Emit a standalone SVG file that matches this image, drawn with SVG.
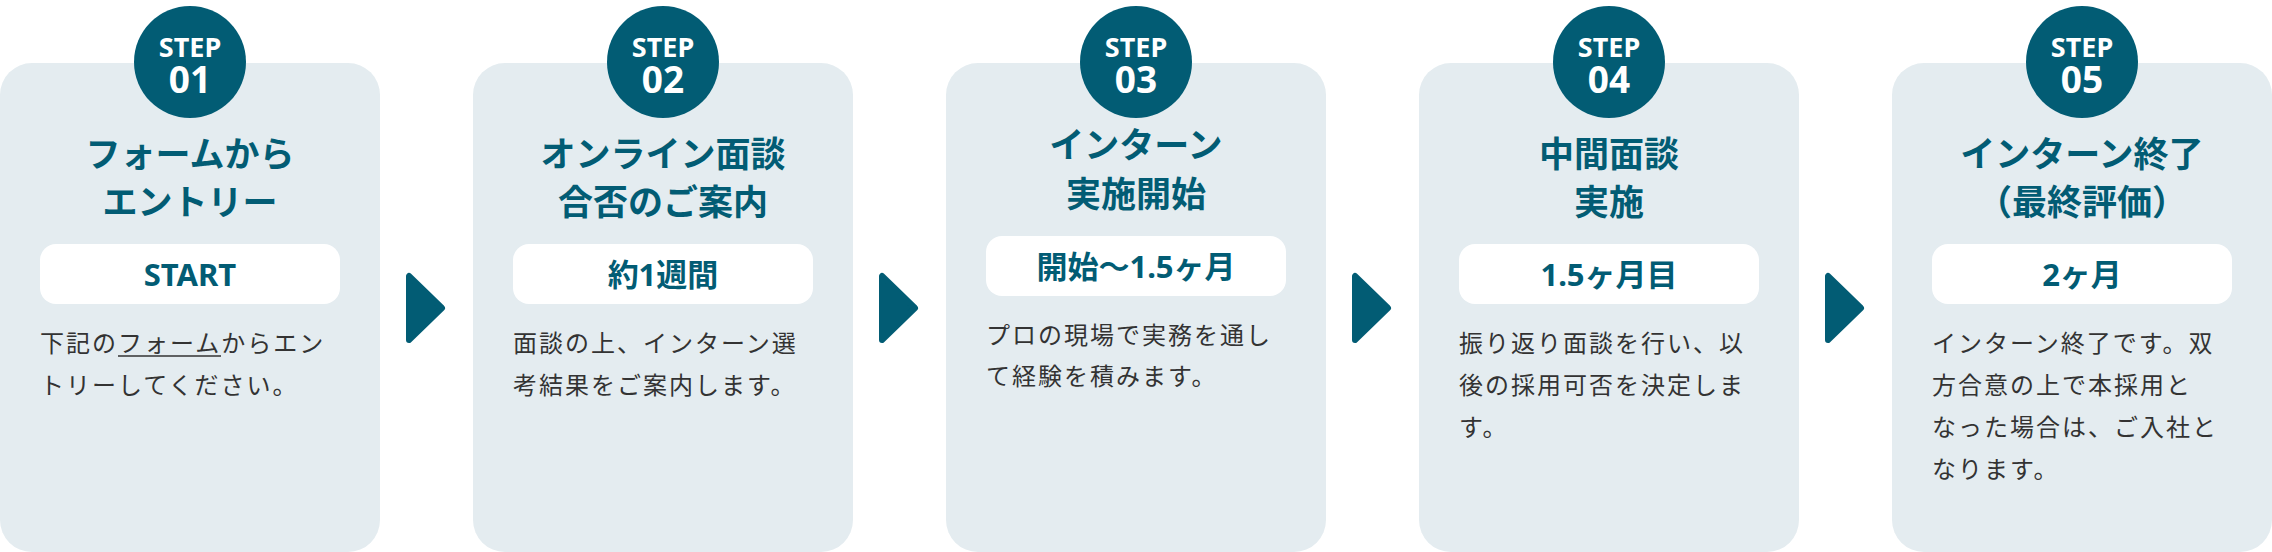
<svg xmlns="http://www.w3.org/2000/svg" width="2272" height="552" viewBox="0 0 2272 552">
<style>
.card{fill:#e4ecf0}
.badge{fill:#025c74}
.pill{fill:#ffffff}
.step{font-family:"Noto Sans","Noto Sans CJK JP",sans-serif;font-weight:700;fill:#ffffff;text-anchor:middle}
.title{font-family:"Noto Sans","Noto Sans CJK JP",sans-serif;font-weight:700;font-size:35px;fill:#025c74;text-anchor:middle}
.period{font-family:"Noto Sans","Noto Sans CJK JP",sans-serif;font-weight:700;font-size:31px;fill:#025c74;text-anchor:middle}
.body{font-family:"Noto Sans","Noto Sans CJK JP",sans-serif;font-weight:400;font-size:24px;letter-spacing:2px;fill:#333333}
.arrow{fill:#025c74;stroke:#025c74;stroke-width:6;stroke-linejoin:round}
</style>
<g id="connectors">
<polygon class="arrow" points="409,276 409,340 442,308"/>
<polygon class="arrow" points="882,276 882,340 915,308"/>
<polygon class="arrow" points="1355,276 1355,340 1388,308"/>
<polygon class="arrow" points="1828,276 1828,340 1861,308"/>
</g>
<g id="step1">
<rect class="card" x="0" y="63" width="380" height="489" rx="32"/>
<circle class="badge" cx="190" cy="62" r="56"/>
<text class="step" x="190" y="57" font-size="27">STEP</text>
<text class="step" x="190" y="93" font-size="37">01</text>
<text class="title" x="190" y="167">フォームから</text>
<text class="title" x="190" y="215">エントリー</text>
<rect class="pill" x="40" y="244" width="300" height="60" rx="16"/>
<text class="period" x="190" y="286">START</text>
<text class="body" x="40" y="352">下記のフォームからエン</text>
<line x1="118" y1="356" x2="221" y2="356" stroke="#333333" stroke-width="1.5"/>
<text class="body" x="40" y="394">トリーしてください。</text>
</g>
<g id="step2">
<rect class="card" x="473" y="63" width="380" height="489" rx="32"/>
<circle class="badge" cx="663" cy="62" r="56"/>
<text class="step" x="663" y="57" font-size="27">STEP</text>
<text class="step" x="663" y="93" font-size="37">02</text>
<text class="title" x="663" y="167">オンライン面談</text>
<text class="title" x="663" y="215">合否のご案内</text>
<rect class="pill" x="513" y="244" width="300" height="60" rx="16"/>
<text class="period" x="663" y="286">約1週間</text>
<text class="body" x="513" y="352">面談の上、インターン選</text>
<text class="body" x="513" y="394">考結果をご案内します。</text>
</g>
<g id="step3">
<rect class="card" x="946" y="63" width="380" height="489" rx="32"/>
<circle class="badge" cx="1136" cy="62" r="56"/>
<text class="step" x="1136" y="57" font-size="27">STEP</text>
<text class="step" x="1136" y="93" font-size="37">03</text>
<text class="title" x="1136" y="158">インターン</text>
<text class="title" x="1136" y="207">実施開始</text>
<rect class="pill" x="986" y="236" width="300" height="60" rx="16"/>
<text class="period" x="1136" y="278">開始〜1.5ヶ月</text>
<text class="body" x="986" y="344">プロの現場で実務を通し</text>
<text class="body" x="986" y="385">て経験を積みます。</text>
</g>
<g id="step4">
<rect class="card" x="1419" y="63" width="380" height="489" rx="32"/>
<circle class="badge" cx="1609" cy="62" r="56"/>
<text class="step" x="1609" y="57" font-size="27">STEP</text>
<text class="step" x="1609" y="93" font-size="37">04</text>
<text class="title" x="1609" y="167">中間面談</text>
<text class="title" x="1609" y="215">実施</text>
<rect class="pill" x="1459" y="244" width="300" height="60" rx="16"/>
<text class="period" x="1609" y="286">1.5ヶ月目</text>
<text class="body" x="1459" y="352">振り返り面談を行い、以</text>
<text class="body" x="1459" y="394">後の採用可否を決定しま</text>
<text class="body" x="1459" y="436">す。</text>
</g>
<g id="step5">
<rect class="card" x="1892" y="63" width="380" height="489" rx="32"/>
<circle class="badge" cx="2082" cy="62" r="56"/>
<text class="step" x="2082" y="57" font-size="27">STEP</text>
<text class="step" x="2082" y="93" font-size="37">05</text>
<text class="title" x="2082" y="167">インターン終了</text>
<text class="title" x="2082" y="215">（最終評価）</text>
<rect class="pill" x="1932" y="244" width="300" height="60" rx="16"/>
<text class="period" x="2082" y="286">2ヶ月</text>
<text class="body" x="1932" y="352">インターン終了です。双</text>
<text class="body" x="1932" y="394">方合意の上で本採用と</text>
<text class="body" x="1932" y="436">なった場合は、ご入社と</text>
<text class="body" x="1932" y="478">なります。</text>
</g>
</svg>
